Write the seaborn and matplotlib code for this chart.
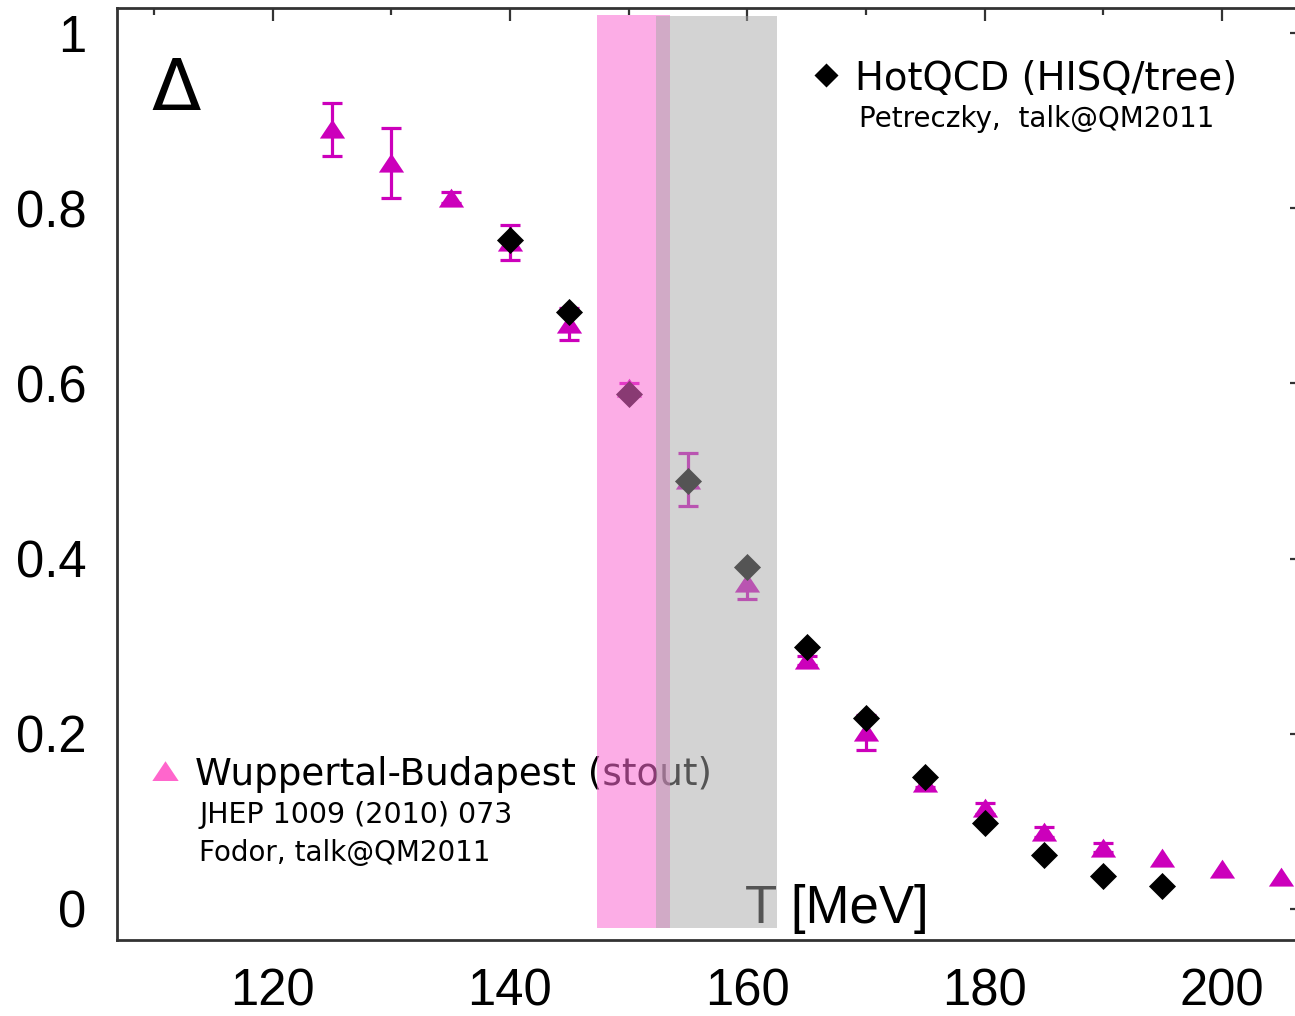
import matplotlib
matplotlib.use("Agg")
import matplotlib.pyplot as plt
from matplotlib.ticker import MultipleLocator
import seaborn as sns
import pandas as pd

# Wuppertal-Budapest (stout) points with errors
T_wb = [125, 130, 135, 140, 145, 150, 155, 160, 165, 170, 175, 180, 185, 190, 195, 200, 205]
delta_wb = [0.890, 0.852, 0.812, 0.761, 0.668, 0.595, 0.490, 0.372, 0.284, 0.202, 0.144,
            0.115, 0.088, 0.070, 0.058, 0.046, 0.037]
err_wb = [0.030, 0.040, 0.006, 0.020, 0.018, 0.006, 0.030, 0.018, 0.005, 0.020, 0.005,
          0.006, 0.006, 0.005, 0.0, 0.0, 0.0]

# HotQCD (HISQ/tree) points
T_hot = [140, 145, 150, 155, 160, 165, 170, 175, 180, 185, 190, 195]
delta_hot = [0.764, 0.681, 0.588, 0.489, 0.390, 0.299, 0.218, 0.151, 0.098, 0.062, 0.038, 0.026]

# transition bands
band_wb = (147.3, 153.5)
band_hot = (152.3, 162.5)

x_ticks = [120, 140, 160, 180, 200]
y_ticks = [0, 0.2, 0.4, 0.6, 0.8, 1.0]
y_labels = ["0", "0.2", "0.4", "0.6", "0.8", "1"]

df_wb = pd.DataFrame({"T": T_wb, "delta": delta_wb, "err": err_wb})
df_hot = pd.DataFrame({"T": T_hot, "delta": delta_hot})
df_err = df_wb[df_wb["err"] > 0]

sns.set_style("white")
plt.rcParams["font.family"] = ["Liberation Sans", "DejaVu Sans"]
plt.rcParams["text.color"] = "black"

fig = plt.figure(figsize=(12.95, 10.16), dpi=100)
ax = fig.add_axes([0.0903, 0.0748, 0.916, 0.9173])

magenta = "#cc00bb"
flat_tri = [(-1, -0.72), (1, -0.72), (0, 0.78)]

# error bars for the stout data
ax.errorbar(df_err["T"], df_err["delta"], yerr=df_err["err"], fmt="none",
            ecolor=magenta, elinewidth=2.3, capsize=7, capthick=2.3, zorder=2)

sns.scatterplot(data=df_wb, x="T", y="delta", marker=flat_tri, s=330, color=magenta,
                linewidth=0, ax=ax, zorder=3)
sns.scatterplot(data=df_hot, x="T", y="delta", marker="D", s=190, color="black",
                linewidth=0, ax=ax, zorder=4)

# shaded bands sit on top of the points
ax.axvspan(*band_wb, ymin=0.013, ymax=0.993, color="#fb6ad2", alpha=0.55,
           lw=0, zorder=6)
ax.axvspan(*band_hot, ymin=0.013, ymax=0.991, color="#a8a8a8", alpha=0.506,
           lw=0, zorder=7)

# legend-like annotations
dv = ["DejaVu Sans"]
ax.scatter([166.6], [0.952], marker="D", s=150, color="black", lw=0, zorder=4)
ax.text(169.1, 0.935, "HotQCD (HISQ/tree)", fontsize=27.8, family=dv, zorder=3)
ax.text(169.4, 0.893, "Petreczky,  talk@QM2011", fontsize=20, family=dv, zorder=3)

ax.scatter([110.9], [0.158], marker=flat_tri, s=360, color="#ff66cc", lw=0, zorder=4)
ax.text(113.45, 0.1416, "Wuppertal-Budapest (stout)", fontsize=26.8, family=dv, zorder=3)
ax.text(113.8, 0.098, "JHEP 1009 (2010) 073", fontsize=20.5, family=dv, zorder=3)
ax.text(113.8, 0.055, "Fodor, talk@QM2011", fontsize=20, family=dv, zorder=3)

ax.text(109.8, 0.912, "\u0394", fontsize=52, family=dv, zorder=3)
ax.text(159.8, -0.016, "T [MeV]", fontsize=38, zorder=3)

ax.set_xlim(106.87, 206.86)
ax.set_ylim(-0.0354, 1.0285)
ax.set_xticks(x_ticks)
ax.set_yticks(y_ticks)
ax.set_yticklabels(y_labels)
ax.xaxis.set_minor_locator(MultipleLocator(10))
ax.yaxis.set_minor_locator(MultipleLocator(0.1))
ax.set_xlabel("")
ax.set_ylabel("")

ax.tick_params(which="both", direction="in", top=True, right=True,
               width=1.6, color="#333333", labelsize=36.5, labelcolor="black")
ax.tick_params(which="major", length=9.5)
ax.tick_params(which="minor", length=5)
ax.tick_params(axis="y", pad=22)
ax.tick_params(axis="x", pad=20)

for sp in ax.spines.values():
    sp.set_linewidth(2)
    sp.set_color("#333333")
    sp.set_zorder(8)

fig.savefig("out.png", dpi=100)
